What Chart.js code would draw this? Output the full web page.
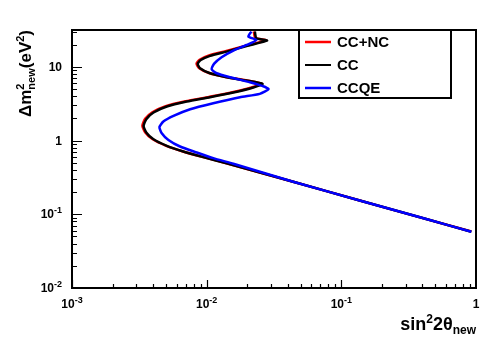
<!DOCTYPE html>
<html>
<head>
<meta charset="utf-8">
<script src="https://cdn.jsdelivr.net/npm/chart.js@4"></script>
<style>
  html, body { margin: 0; padding: 0; background: #fff; }
</style>
</head>
<body>
<canvas id="chart" width="499" height="339"></canvas>
<script>
// exclusion contours, sin^2 2theta (x) vs dm^2 in eV^2 (y)
const ccncX = [0.0224, 0.0230, 0.0277, 0.0195, 0.0138, 0.0104, 0.00886, 0.00841, 0.00876, 0.0104, 0.0138, 0.0195, 0.0256, 0.0218, 0.0155, 0.0104, 0.00697, 0.00496, 0.00395, 0.00349, 0.00333, 0.00349, 0.00395, 0.00496, 0.00658, 0.00925, 0.0138, 0.0432, 0.1350, 0.422, 0.9235];
const ccncY = [30.1, 24.6, 22.9, 19.4, 16.3, 14.3, 12.5, 11.1, 9.66, 8.26, 7.30, 6.58, 5.93, 5.29, 4.52, 3.91, 3.41, 2.93, 2.42, 1.97, 1.59, 1.30, 1.05, 0.856, 0.717, 0.602, 0.496, 0.279, 0.155, 0.0866, 0.0583];

const ccX = [0.0228, 0.0234, 0.0281, 0.0198, 0.01406, 0.01059, 0.00904, 0.00858, 0.00893, 0.01059, 0.01406, 0.0198, 0.0260, 0.0222, 0.01578, 0.01059, 0.00711, 0.00506, 0.00403, 0.00356, 0.00340, 0.00356, 0.00403, 0.00506, 0.00671, 0.00944, 0.01406, 0.0439, 0.1368, 0.427, 0.9235];
const ccY = [30.1, 24.4, 22.7, 19.2, 16.1, 14.1, 12.4, 10.97, 9.57, 8.18, 7.23, 6.51, 5.87, 5.24, 4.48, 3.87, 3.38, 2.90, 2.40, 1.95, 1.58, 1.29, 1.04, 0.848, 0.711, 0.596, 0.491, 0.276, 0.154, 0.0861, 0.0580];

const ccqeX = [0.0215, 0.0204, 0.0234, 0.0198, 0.01578, 0.01291, 0.01133, 0.01089, 0.01186, 0.01489, 0.02095, 0.0266, 0.0288, 0.0248, 0.01767, 0.01119, 0.00754, 0.00567, 0.00477, 0.00446, 0.00464, 0.00520, 0.00634, 0.00843, 0.01119, 0.01578, 0.0439, 0.1368, 0.427, 0.9235];
const ccqeY = [30.1, 25.7, 23.2, 19.8, 16.6, 13.5, 10.97, 9.27, 8.18, 7.23, 6.18, 5.41, 4.97, 4.30, 3.87, 3.21, 2.66, 2.16, 1.81, 1.52, 1.26, 1.02, 0.831, 0.689, 0.577, 0.484, 0.276, 0.154, 0.0861, 0.0580];

const xTicks = [0.001, 0.01, 0.1, 1];
const xTickLabels = [['10', '-3'], ['10', '-2'], ['10', '-1'], ['1', '']];
const yTicks = [0.01, 0.1, 1, 10];
const yTickLabels = [['10', '-2'], ['10', '-1'], ['1', ''], ['10', '']];

const pts = (xs, ys) => xs.map((x, i) => ({ x: x, y: ys[i] }));
const font = s => 'bold ' + s + 'px "Liberation Sans", Arial, sans-serif';

// parts: [text, size, dy, advance]
function rich(ctx, parts, x, y, align) {
  let w = 0;
  parts.forEach(p => { ctx.font = font(p[1]); if (p[3] !== false) w += ctx.measureText(p[0]).width; });
  let cx = align === 'right' ? x - w : align === 'center' ? x - w / 2 : x;
  ctx.textAlign = 'left';
  ctx.textBaseline = 'alphabetic';
  parts.forEach(p => {
    ctx.font = font(p[1]);
    ctx.fillText(p[0], cx, y + p[2]);
    if (p[3] !== false) cx += ctx.measureText(p[0]).width;
  });
}

const rootStyle = {
  id: 'rootStyle',
  afterDraw(chart) {
    const ctx = chart.ctx;
    const a = chart.chartArea;
    const xs = chart.scales.x, ys = chart.scales.y;
    ctx.save();
    ctx.fillStyle = '#000';
    ctx.strokeStyle = '#000';

    // ticks, pointing inwards
    ctx.lineWidth = 1.2;
    ctx.beginPath();
    [0.001, 0.01, 0.1].forEach(d => {
      for (let k = 1; k <= 9; k++) {
        const px = Math.round(xs.getPixelForValue(k * d)) + 0.5;
        const len = k === 1 ? 8 : 4;
        ctx.moveTo(px, a.bottom);
        ctx.lineTo(px, a.bottom - len);
      }
    });
    [0.01, 0.1, 1, 10].forEach(d => {
      for (let k = 1; k <= 9; k++) {
        const v = k * d;
        if (v > ys.max) break;
        const py = Math.round(ys.getPixelForValue(v)) + 0.5;
        const len = k === 1 ? 10 : 5;
        ctx.moveTo(a.left, py);
        ctx.lineTo(a.left + len, py);
      }
    });
    ctx.stroke();

    // frame
    ctx.lineWidth = 2;
    ctx.strokeRect(a.left, a.top, a.right - a.left, a.bottom - a.top);

    // tick labels
    xTicks.forEach((v, i) => {
      const l = xTickLabels[i];
      rich(ctx, [[l[0], 12, 0], [l[1], 9, -5]], xs.getPixelForValue(v), a.bottom + 20, 'center');
    });
    yTicks.forEach((v, i) => {
      const l = yTickLabels[i];
      rich(ctx, [[l[0], 12, 0], [l[1], 9, -5]], a.left - 10, ys.getPixelForValue(v) + 4, 'right');
    });

    // axis titles
    rich(ctx, [['sin', 18, 0], ['2', 12, -7], ['2\u03b8', 18, 0], ['new', 12, 4]], a.right, 330, 'right');
    ctx.save();
    ctx.translate(31, a.top);
    ctx.rotate(-Math.PI / 2);
    rich(ctx, [['\u0394m', 17, 0], ['2', 11, -7, false], ['new', 11, 4], ['(eV', 17, 0], ['2', 11, -7], [')', 17, 0]], 0, 0, 'right');
    ctx.restore();

    // legend box
    const bx = 299, by = a.top, bw = 152, bh = 68;
    ctx.fillStyle = '#fff';
    ctx.fillRect(bx, by, bw, bh);
    ctx.lineWidth = 2;
    ctx.strokeRect(bx, by, bw, bh);
    const items = chart.data.datasets.slice().reverse();
    items.forEach((ds, i) => {
      const y = by + 12 + i * 23;
      ctx.strokeStyle = ds.borderColor;
      ctx.lineWidth = ds.legendWidth;
      ctx.beginPath();
      ctx.moveTo(bx + 6, y);
      ctx.lineTo(bx + 32, y);
      ctx.stroke();
      ctx.fillStyle = '#000';
      ctx.font = font(15);
      ctx.textAlign = 'left';
      ctx.textBaseline = 'middle';
      ctx.fillText(ds.label, bx + 38, y + 1);
    });
    ctx.restore();
  }
};

new Chart(document.getElementById('chart'), {
  type: 'scatter',
  data: {
    datasets: [
      { label: 'CCQE', data: pts(ccqeX, ccqeY), borderColor: '#0000ff', legendWidth: 2.5 },
      { label: 'CC', data: pts(ccX, ccY), borderColor: '#000000', legendWidth: 2 },
      { label: 'CC+NC', data: pts(ccncX, ccncY), borderColor: '#ff0000', legendWidth: 2.5 }
    ]
  },
  options: {
    responsive: false,
    animation: false,
    devicePixelRatio: 1,
    showLine: true,
    elements: {
      point: { radius: 0, hoverRadius: 0 },
      line: { borderWidth: 2.5, tension: 0.2, fill: false }
    },
    layout: { padding: { left: 72, right: 23, top: 30, bottom: 51 } },
    scales: {
      x: { type: 'logarithmic', min: 0.001, max: 1, display: false },
      y: { type: 'logarithmic', min: 0.01, max: 31.6, display: false }
    },
    plugins: {
      legend: { display: false },
      tooltip: { enabled: false }
    }
  },
  plugins: [rootStyle]
});
</script>
</body>
</html>
